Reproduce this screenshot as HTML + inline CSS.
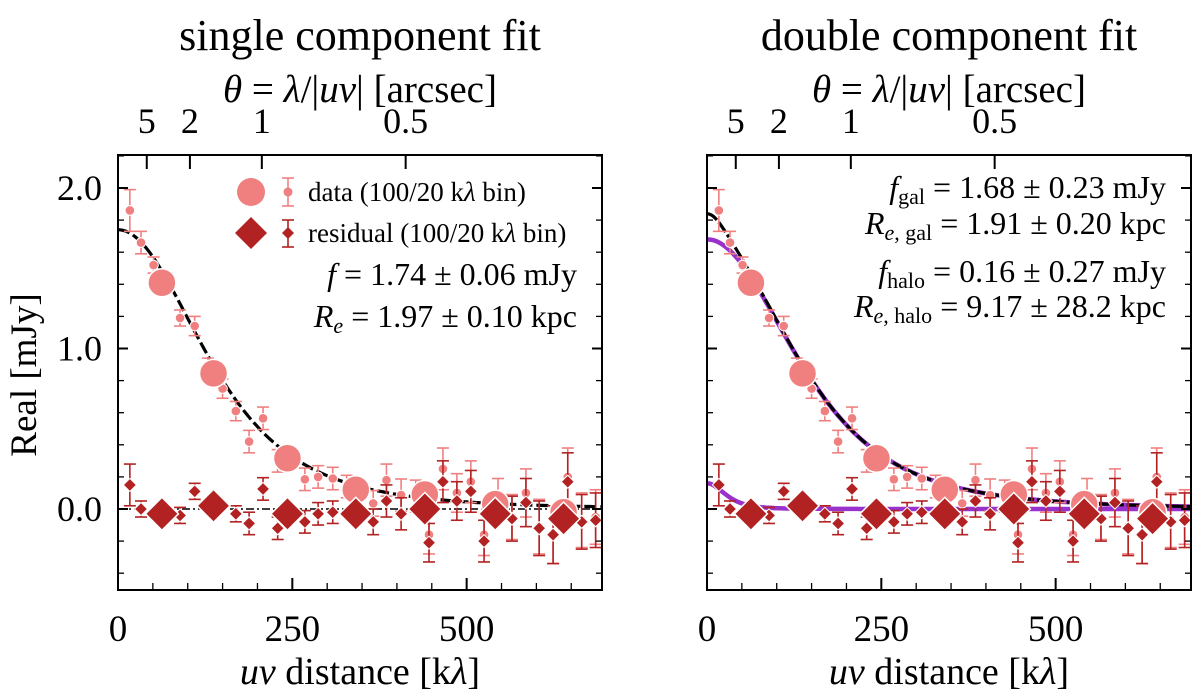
<!DOCTYPE html>
<html><head><meta charset="utf-8"><style>
body{margin:0;background:#fff;}
svg{display:block;}
svg text{font-family:"Liberation Serif","DejaVu Serif",serif;}
</style></head><body>
<svg id="chart" width="1200" height="693" viewBox="0 0 1200 693" xmlns="http://www.w3.org/2000/svg" font-family="Liberation Serif, DejaVu Serif, serif"></svg>
<script>
// ---- data ----
const smallX = [17,33,51,70,89,110,129,150,169,188,208,229,268,287,308,328,366,385,406,427,446,466,486,506,525,545,565,585,604,624,645,665,685];
const smallY = [1.86,1.66,1.52,1.42,1.19,1.14,0.88,0.75,0.61,0.42,0.565,0.30,0.185,0.20,0.19,0.14,0.035,0.18,0.087,0.08,-0.16,0.25,0.10,0.17,-0.16,0.06,-0.05,0.10,-0.11,-0.16,0.20,-0.07,-0.05];
const smallErr = [0.13,0.07,0.05,0.05,0.05,0.06,0.06,0.06,0.06,0.07,0.07,0.07,0.07,0.07,0.07,0.07,0.08,0.1,0.1,0.1,0.12,0.13,0.12,0.13,0.13,0.13,0.14,0.15,0.17,0.18,0.18,0.17,0.17];
const resX = [17,33,89,110,169,188,208,229,268,287,308,366,385,406,446,466,486,506,525,565,585,604,624,645,665,685];
const resY = [0.15,0.0,-0.04,0.11,-0.03,-0.09,0.125,-0.12,-0.08,-0.03,-0.02,-0.08,0.05,-0.03,-0.21,0.17,0.05,0.11,-0.2,-0.06,0.04,-0.12,-0.16,0.17,-0.08,-0.07];
const resErr = [0.13,0.05,0.05,0.05,0.05,0.07,0.07,0.07,0.07,0.07,0.07,0.08,0.1,0.1,0.12,0.13,0.12,0.13,0.13,0.14,0.15,0.17,0.18,0.18,0.17,0.17];
const bigX = [63,137,243,341,440,541,639];
const bigY = [1.41,0.845,0.316,0.12,0.09,0.03,-0.02];
const bigResY = [-0.03,0.02,-0.03,-0.03,0.0,-0.03,-0.06];
const yTicks = [0,1,2];
const yTickLabels = ["0.0","1.0","2.0"];
const xTicks = [0,250,500];
const xTickLabels = ["0","250","500"];
const thetaTicks = [5,2,1,0.5];
const thetaTickLabels = ["5","2","1","0.5"];
const singleFit = [1.74, 1.97];      // flux mJy, Re kpc
const galFit = [1.68, 1.91];
const haloFit = [0.16, 9.17];

const NS="http://www.w3.org/2000/svg";
const svg=document.getElementById('chart');
const FF="Liberation Serif, DejaVu Serif, serif";
function mk(tag,attrs,parent){const e=document.createElementNS(NS,tag);for(const k in attrs)e.setAttribute(k,attrs[k]);if(tag==='text')e.setAttribute('font-family',FF);(parent||svg).appendChild(e);return e;}

const Y0=509, YS=160.5, TOP=155, BOT=590, XS=0.6973;
function sy(v){return Y0-v*YS;}
function vis(q,f,re){const s=218*1.97/re;const u=q/s;return f/Math.pow(1+u*u,2);}

function panel(L,R,name,title,two){
  const g=mk('g',{});
  
  
  const sx=v=>L+v*XS;
  const cx=(L+R)/2;
  const t=mk('text',{x:cx,y:50,'font-size':44,'text-anchor':'middle'},g);t.textContent=title;
  
  const tl=mk('text',{x:cx,y:102,'font-size':39,'text-anchor':'middle'},g);
  tl.innerHTML='<tspan font-style="italic">θ</tspan> = <tspan font-style="italic">λ</tspan>/|<tspan font-style="italic">uv</tspan>| [arcsec]';
  
  const cid='clip'+name;
  const cp=mk('clipPath',{id:cid},g);mk('rect',{x:L,y:TOP,width:R-L,height:BOT-TOP},cp);
  const pg=mk('g',{'clip-path':'url(#'+cid+')'},g);
  if(!two){const zl=mk('line',{x1:L,x2:R,y1:sy(0),y2:sy(0),stroke:'#000','stroke-width':1.6,'stroke-dasharray':'8,3,2,3'},pg);
    }
  function path(fn,attrs,nm){let d='';for(let q=0;q<=700;q+=3){d+=(q?'L':'M')+sx(q).toFixed(1)+','+sy(fn(q)).toFixed(1);}
    const p=mk('path',Object.assign({d:d,fill:'none'},attrs),pg);}
  if(two){
    path(q=>vis(q,galFit[0],galFit[1]),{stroke:'#9932CC','stroke-width':4.5},'galaxy-model-curve');
    path(q=>vis(q,haloFit[0],haloFit[1]),{stroke:'#9932CC','stroke-width':4.5},'halo-model-curve');
    path(q=>vis(q,galFit[0],galFit[1])+vis(q,haloFit[0],haloFit[1]),{stroke:'#000','stroke-width':3.2,'stroke-dasharray':'12,3'},'total-model-curve');
  } else {
    path(q=>vis(q,singleFit[0],singleFit[1]),{stroke:'#000','stroke-width':3.2,'stroke-dasharray':'12,4'},'model-curve');
  }
  function ebar(x,y,e,col){const X=sx(x);
    mk('line',{x1:X,x2:X,y1:sy(y-e),y2:sy(y+e),stroke:col,'stroke-width':1.6},pg);
    mk('line',{x1:X-6,x2:X+6,y1:sy(y-e),y2:sy(y-e),stroke:col,'stroke-width':1.6},pg);
    mk('line',{x1:X-6,x2:X+6,y1:sy(y+e),y2:sy(y+e),stroke:col,'stroke-width':1.6},pg);}
  for(let i=0;i<smallX.length;i++){ebar(smallX[i],smallY[i],smallErr[i],'#F08080');
    const c=mk('circle',{cx:sx(smallX[i]),cy:sy(smallY[i]),r:4.8,fill:'#F08080',stroke:'#fff','stroke-width':1},pg);
    }
  for(let i=0;i<resX.length;i++){ebar(resX[i],resY[i],resErr[i],'#B22222');
    const X=sx(resX[i]),Y=sy(resY[i]),h=6.5;
    const d=mk('polygon',{points:`${X},${Y-h} ${X+h},${Y} ${X},${Y+h} ${X-h},${Y}`,fill:'#B22222',stroke:'#fff','stroke-width':1},pg);
    }
  for(let i=0;i<bigX.length;i++){
    const c=mk('circle',{cx:sx(bigX[i]),cy:sy(bigY[i]),r:14,fill:'#F08080',stroke:'#fff','stroke-width':1.5},pg);
    }
  for(let i=0;i<bigX.length;i++){const X=sx(bigX[i]),Y=sy(bigResY[i]),h=16.5;
    const d=mk('polygon',{points:`${X},${Y-h} ${X+h},${Y} ${X},${Y+h} ${X-h},${Y}`,fill:'#B22222',stroke:'#fff','stroke-width':1.5},pg);
    }
  const fr=mk('rect',{x:L,y:TOP,width:R-L,height:BOT-TOP,fill:'none',stroke:'#000','stroke-width':2},g);
  
  for(let v=-0.4;v<=2.21;v+=0.2){const Y=sy(v);const maj=Math.abs(v-Math.round(v))<0.01;const len=maj?10:6;
    mk('line',{x1:L,x2:L+len,y1:Y,y2:Y,stroke:'#000','stroke-width':maj?2:1.3},g);
    mk('line',{x1:R,x2:R-len,y1:Y,y2:Y,stroke:'#000','stroke-width':maj?2:1.3},g);}
  if(!two){yTicks.forEach((v,i)=>{const t=mk('text',{x:102,y:sy(v)+12,'font-size':36,'text-anchor':'end'},g);t.textContent=yTickLabels[i];
    });}
  for(let v=0;v<=690;v+=50){const X=sx(v);const maj=v%250===0;const len=maj?12:7;
    mk('line',{x1:X,x2:X,y1:BOT,y2:BOT-len,stroke:'#000','stroke-width':maj?2:1.3},g);}
  xTicks.forEach((v,i)=>{const t=mk('text',{x:sx(v),y:641,'font-size':37,'text-anchor':'middle'},g);t.textContent=xTickLabels[i];
    });
  const xl=mk('text',{x:cx,y:684,'font-size':38,'text-anchor':'middle'},g);
  xl.innerHTML='<tspan font-style="italic">uv</tspan> distance [k<tspan font-style="italic">λ</tspan>]';
  
  thetaTicks.forEach((th,i)=>{const X=sx(206.265/th);
    mk('line',{x1:X,x2:X,y1:TOP,y2:TOP+14,stroke:'#000','stroke-width':2},g);
    const t=mk('text',{x:X,y:133,'font-size':36,'text-anchor':'middle'},g);t.textContent=thetaTickLabels[i];
    });
  return g;
}

const g1=panel(118,602,'single-fit-panel','single component fit',false);
const g2=panel(707,1191,'double-fit-panel','double component fit',true);

const yt=mk('text',{x:0,y:0,'font-size':37,'text-anchor':'middle',transform:'translate(36,375) rotate(-90)'});
yt.textContent='Real [mJy]';



const lg=mk('g',{},g1);


mk('circle',{cx:251,cy:192,r:14,fill:'#F08080'},lg);
mk('line',{x1:288,x2:288,y1:178,y2:206,stroke:'#F08080','stroke-width':1.6},lg);
mk('line',{x1:282,x2:294,y1:178,y2:178,stroke:'#F08080','stroke-width':1.6},lg);
mk('line',{x1:282,x2:294,y1:206,y2:206,stroke:'#F08080','stroke-width':1.6},lg);
mk('circle',{cx:288,cy:192,r:4.5,fill:'#F08080'},lg);
const l1=mk('text',{x:308,y:201,'font-size':27},lg);
l1.innerHTML='data (100/20 k<tspan font-style="italic">λ</tspan> bin)';


mk('polygon',{points:'251,217 267,233 251,249 235,233',fill:'#B22222'},lg);
mk('line',{x1:288,x2:288,y1:220,y2:247,stroke:'#B22222','stroke-width':1.6},lg);
mk('line',{x1:282,x2:294,y1:220,y2:220,stroke:'#B22222','stroke-width':1.6},lg);
mk('line',{x1:282,x2:294,y1:247,y2:247,stroke:'#B22222','stroke-width':1.6},lg);
mk('polygon',{points:'288,227 294,233 288,239 282,233',fill:'#B22222'},lg);
const l2=mk('text',{x:308,y:242,'font-size':27},lg);
l2.innerHTML='residual (100/20 k<tspan font-style="italic">λ</tspan> bin)';



function ann(parent,x,y,html,nm){const t=mk('text',{x:x,y:y,'font-size':32,'text-anchor':'end'},parent);t.innerHTML=html;
  }
ann(g1,577,285,'<tspan font-style="italic">f</tspan> = '+singleFit[0].toFixed(2)+' ± 0.06 mJy','flux-annotation');
ann(g1,577,327,'<tspan font-style="italic">R<tspan font-size="22" dy="6">e</tspan></tspan><tspan dy="-6"> = '+singleFit[1].toFixed(2)+' ± 0.10 kpc</tspan>','radius-annotation');
ann(g2,1166,198,'<tspan font-style="italic">f</tspan><tspan font-size="22" dy="6">gal</tspan><tspan dy="-6"> = '+galFit[0].toFixed(2)+' ± 0.23 mJy</tspan>','gal-flux-annotation');
ann(g2,1166,234,'<tspan font-style="italic">R</tspan><tspan font-size="22" dy="6"><tspan font-style="italic">e</tspan>, gal</tspan><tspan dy="-6"> = '+galFit[1].toFixed(2)+' ± 0.20 kpc</tspan>','gal-radius-annotation');
ann(g2,1166,282,'<tspan font-style="italic">f</tspan><tspan font-size="22" dy="6">halo</tspan><tspan dy="-6"> = '+haloFit[0].toFixed(2)+' ± 0.27 mJy</tspan>','halo-flux-annotation');
ann(g2,1166,317,'<tspan font-style="italic">R</tspan><tspan font-size="22" dy="6"><tspan font-style="italic">e</tspan>, halo</tspan><tspan dy="-6"> = '+haloFit[1].toFixed(2)+' ± 28.2 kpc</tspan>','halo-radius-annotation');
</script>
</body></html>
